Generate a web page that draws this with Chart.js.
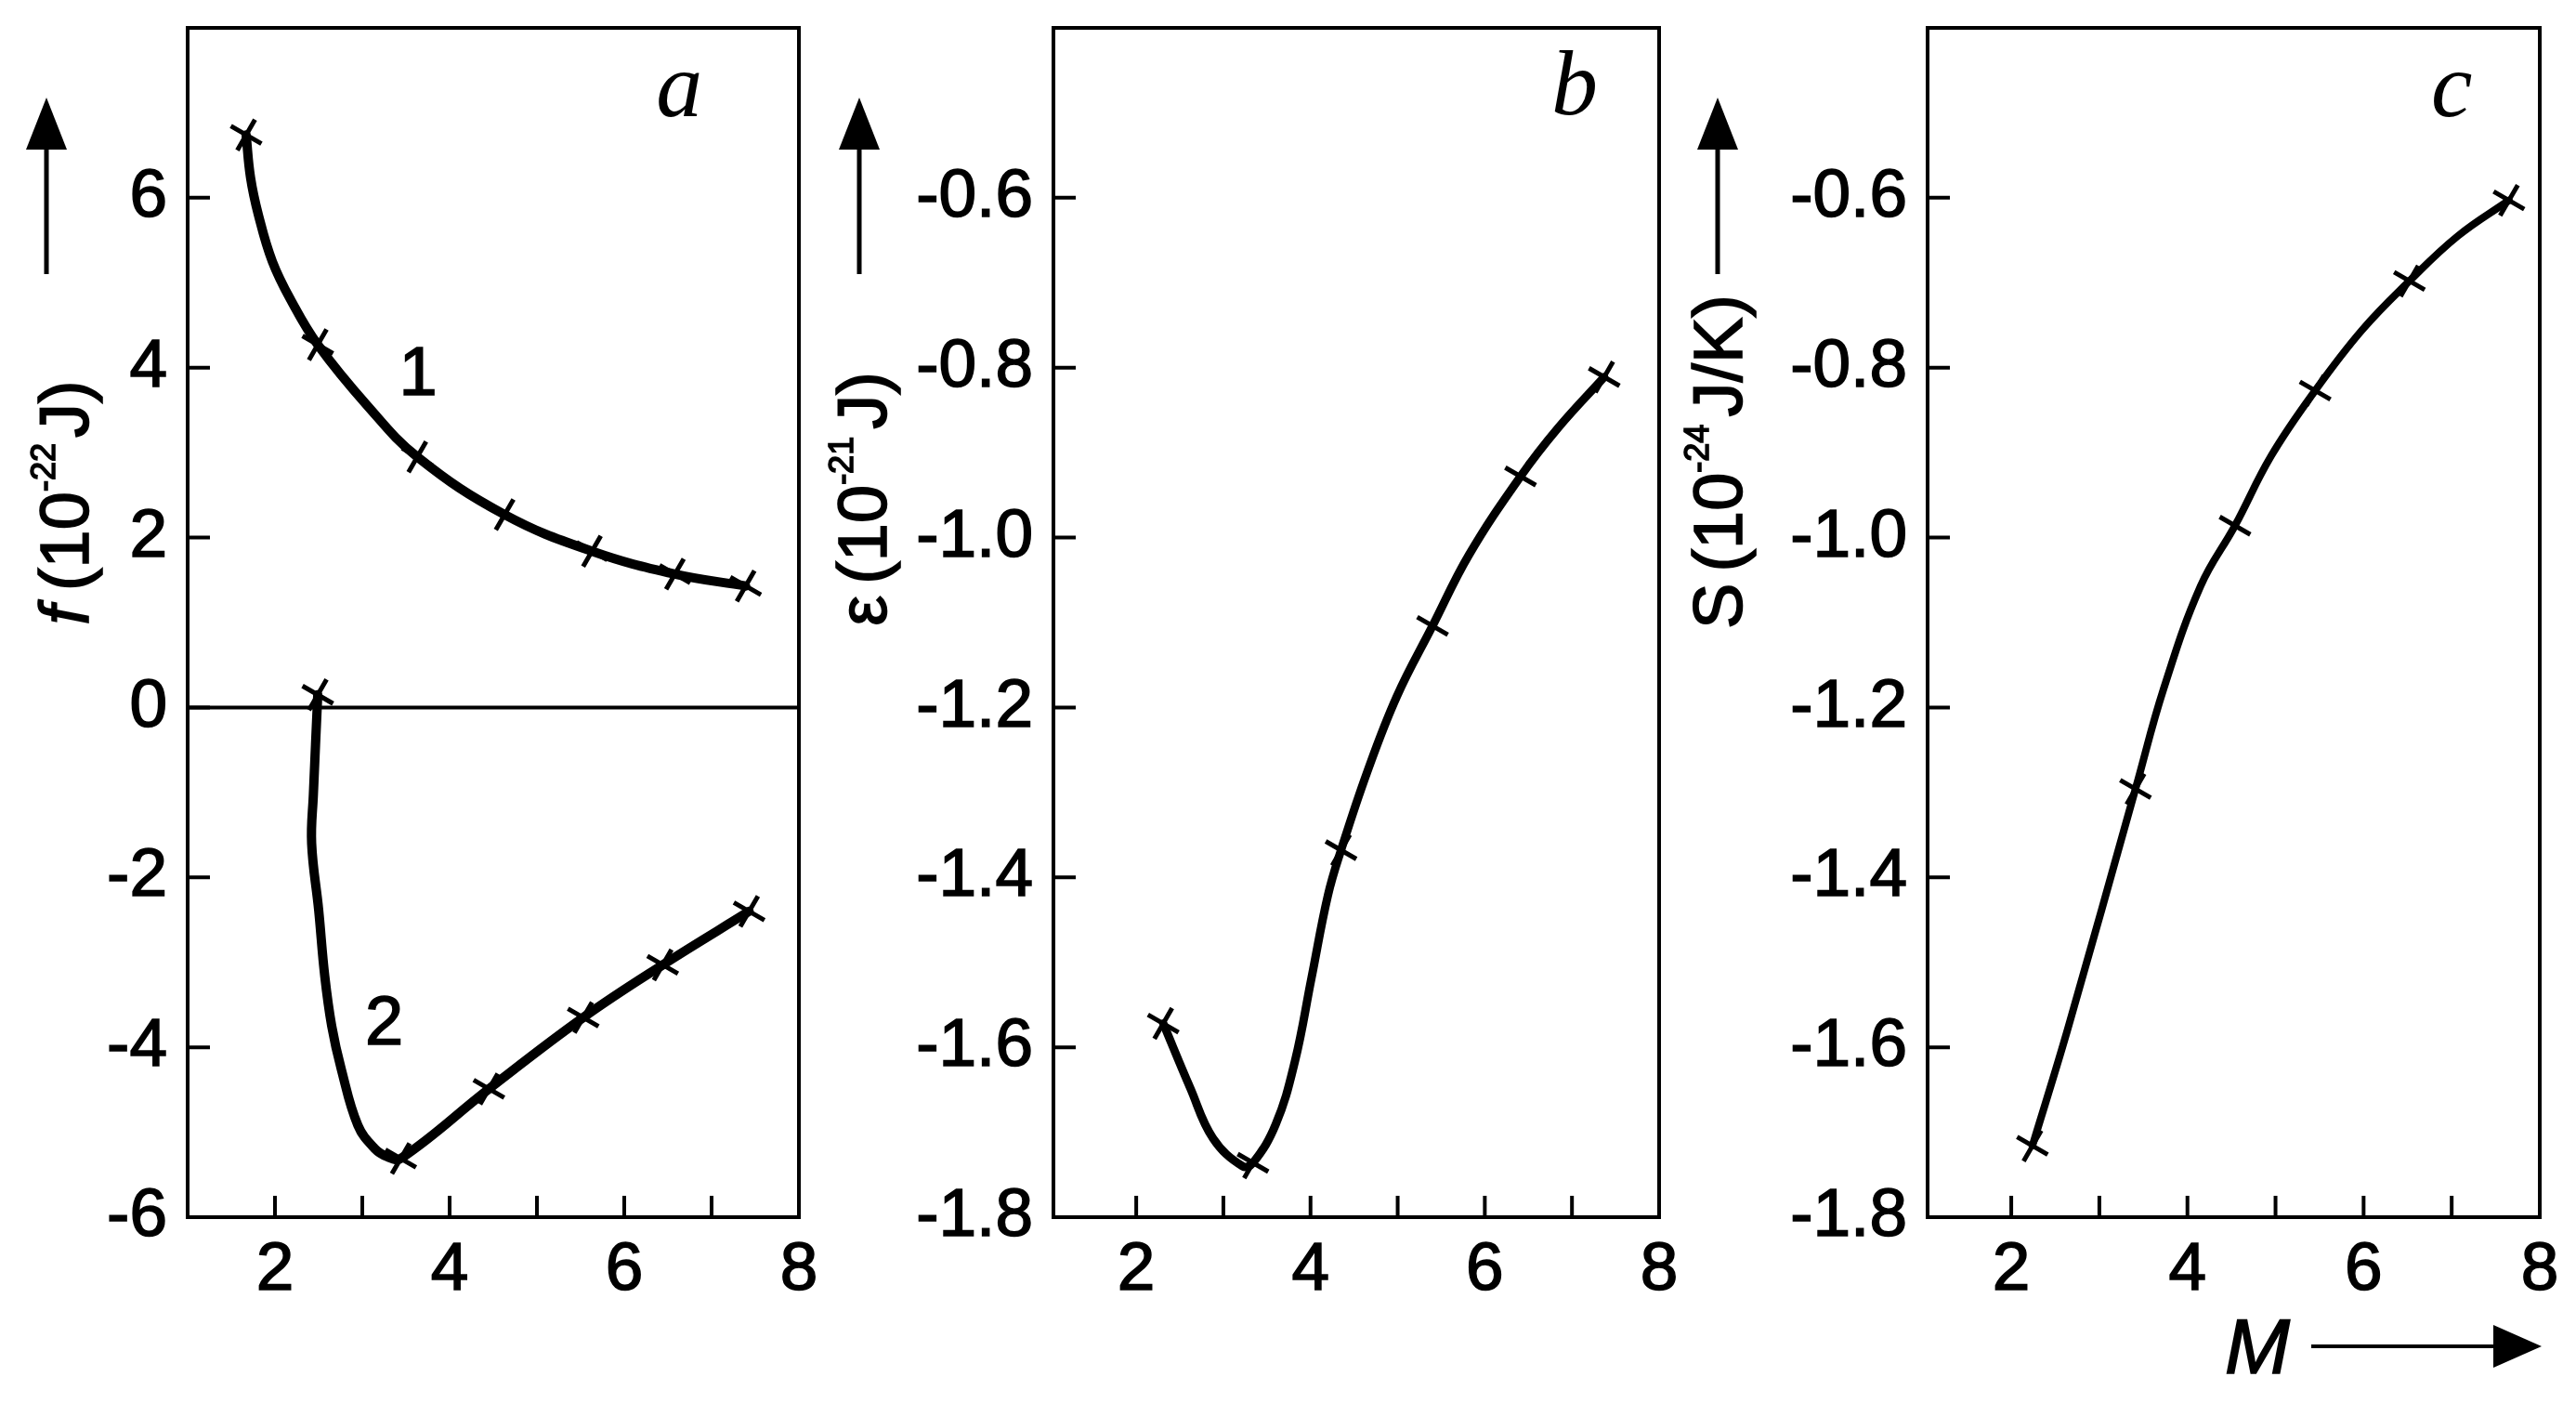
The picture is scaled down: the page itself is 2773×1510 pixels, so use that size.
<!DOCTYPE html>
<html>
<head>
<meta charset="utf-8">
<script src="https://cdn.jsdelivr.net/npm/chart.js@4.4.0/dist/chart.umd.min.js"></script>
<style>
  html, body { margin: 0; padding: 0; background: #fff; }
  #wrap { position: relative; width: 2773px; height: 1510px; overflow: hidden; background: #fff; }
  canvas { position: absolute; top: 0; }
</style>
</head>
<body>
<div id="wrap">
  <canvas id="chartA" width="900" height="1510" style="left:0px"></canvas>
  <canvas id="chartB" width="940" height="1510" style="left:870px"></canvas>
  <canvas id="chartC" width="983" height="1510" style="left:1790px"></canvas>
</div>
<script>
// ---- data (M on the x axis) ----
var xTickValues = [2, 3, 4, 5, 6, 7, 8];
var xTickLabels = [2, 4, 6, 8];

// panel a : f (10^-22 J)
var fTickLabels = [-6, -4, -2, 0, 2, 4, 6];
var fMarkM1 = [1.67, 2.49, 3.63, 4.63, 5.63, 6.58, 7.39];
var fMarkV1 = [6.74, 4.27, 2.95, 2.27, 1.84, 1.57, 1.43];
var fLineM1 = [1.67, 1.72, 1.81, 1.97, 2.19, 2.49, 3.06, 3.63, 4.63, 5.63, 6.58, 7.39];
var fLineV1 = [6.74, 6.24, 5.80, 5.25, 4.78, 4.27, 3.55, 2.95, 2.27, 1.84, 1.57, 1.43];
var fMarkM2 = [2.49, 3.44, 4.45, 5.53, 6.44, 7.43];
var fMarkV2 = [0.15, -5.31, -4.49, -3.65, -3.03, -2.40];
var fLineM2 = [2.49, 2.44, 2.42, 2.50, 2.57, 2.65, 2.76, 2.95, 3.14, 3.29, 3.44, 4.45, 5.53, 6.44, 7.43];
var fLineV2 = [0.15, -1.02, -1.60, -2.38, -3.16, -3.75, -4.26, -4.92, -5.19, -5.29, -5.31, -4.49, -3.65, -3.03, -2.40];

// panel b : epsilon (10^-21 J)
var eTickLabels = [-1.8, -1.6, -1.4, -1.2, -1.0, -0.8, -0.6];
var eMarkM = [2.31, 3.34, 4.35, 5.40, 6.41, 7.37];
var eMarkV = [-1.572, -1.736, -1.368, -1.104, -0.928, -0.811];
var eLineM = [2.31, 2.62, 2.88, 3.22, 3.34, 3.60, 3.82, 4.01, 4.20, 4.35, 4.65, 4.99, 5.40, 5.82, 6.41, 6.84, 7.37];
var eLineV = [-1.572, -1.648, -1.707, -1.740, -1.736, -1.691, -1.617, -1.519, -1.421, -1.368, -1.276, -1.187, -1.104, -1.02, -0.928, -0.871, -0.811];

// panel c : S (10^-24 J/K)
var sTickLabels = [-1.8, -1.6, -1.4, -1.2, -1.0, -0.8, -0.6];
var sMarkM = [2.24, 3.41, 4.54, 5.45, 6.52, 7.65];
var sMarkV = [-1.716, -1.296, -0.986, -0.827, -0.698, -0.603];
var sLineM = [2.24, 2.64, 3.41, 3.73, 4.15, 4.54, 4.95, 5.45, 5.98, 6.52, 7.07, 7.65];
var sLineV = [-1.716, -1.579, -1.296, -1.178, -1.057, -0.986, -0.904, -0.827, -0.756, -0.698, -0.645, -0.603];

var SANS = '"Liberation Sans", Arial, Helvetica, sans-serif';
var SERIF = '"Liberation Serif", "Times New Roman", serif';
var INK = 1.6; // scanned text is a bit heavier than regular weight

function pts(xs, ys) {
  var out = [];
  for (var i = 0; i < xs.length; i++) {
    out.push({x: xs[i], y: ys[i]});
  }
  return out;
}

function curve(xs, ys, w) {
  return {
    data: pts(xs, ys),
    showLine: true,
    borderColor: '#000',
    borderWidth: w,
    borderCapStyle: 'round',
    borderJoinStyle: 'round',
    tension: 0.4,
    pointRadius: 0,
    fill: false
  };
}

function marks(xs, ys) {
  return {
    data: pts(xs, ys),
    showLine: false,
    pointStyle: 'cross',
    pointRotation: 30,
    pointRadius: 19,
    pointBorderWidth: 5,
    pointBorderColor: '#000',
    pointBackgroundColor: '#000'
  };
}

function inList(list, v) {
  for (var i = 0; i < list.length; i++) {
    if (Math.abs(list[i] - v) < 1e-6) return list[i];
  }
  return null;
}

function inkText(ctx, t, x, y) {
  ctx.fillText(t, x, y);
  ctx.lineWidth = INK;
  ctx.strokeText(t, x, y);
}

function arrowUp(ctx, x, tip, base, tail) {
  ctx.lineWidth = 5;
  ctx.beginPath();
  ctx.moveTo(x, tail);
  ctx.lineTo(x, base);
  ctx.stroke();
  ctx.beginPath();
  ctx.moveTo(x, tip);
  ctx.lineTo(x - 22, base + 4);
  ctx.lineTo(x + 22, base + 4);
  ctx.closePath();
  ctx.fill();
}

function arrowRight(ctx, y, tail, base, tip) {
  ctx.lineWidth = 4;
  ctx.beginPath();
  ctx.moveTo(tail, y);
  ctx.lineTo(base, y);
  ctx.stroke();
  ctx.beginPath();
  ctx.moveTo(tip, y);
  ctx.lineTo(base - 4, y - 23);
  ctx.lineTo(base - 4, y + 23);
  ctx.closePath();
  ctx.fill();
}

// rotated axis title, reading bottom to top, with a superscript part
function vTitle(ctx, segs, bx, cy) {
  var total = 0;
  segs.forEach(function(s) {
    ctx.font = s.font;
    s.w = ctx.measureText(s.t).width;
    total += s.w + (s.gap || 0);
  });
  ctx.save();
  ctx.translate(bx, cy);
  ctx.rotate(-Math.PI / 2);
  ctx.textBaseline = 'alphabetic';
  ctx.textAlign = 'left';
  var x = -total / 2;
  segs.forEach(function(s) {
    x += s.gap || 0;
    ctx.font = s.font;
    inkText(ctx, s.t, x, s.up ? -s.up : 0);
    x += s.w;
  });
  ctx.restore();
}

var decor = {
  id: 'decor',
  afterDraw: function(chart) {
    var o = chart.options.plugins.decor;
    var ctx = chart.ctx;
    var a = chart.chartArea;
    var xs = chart.scales.x;
    var ys = chart.scales.y;
    ctx.save();
    ctx.strokeStyle = '#000';
    ctx.fillStyle = '#000';
    ctx.lineWidth = 4;
    ctx.strokeRect(a.left, a.top, a.right - a.left, a.bottom - a.top);

    ctx.beginPath();
    xTickValues.forEach(function(m) {
      if (m >= 8) return;
      var px = xs.getPixelForValue(m);
      ctx.moveTo(px, a.bottom);
      ctx.lineTo(px, a.bottom - 23);
    });
    o.yTicks.forEach(function(v) {
      var py = ys.getPixelForValue(v);
      ctx.moveTo(a.left, py);
      ctx.lineTo(a.left + 24, py);
    });
    ctx.stroke();

    if (o.zeroLine) {
      var y0 = ys.getPixelForValue(0);
      ctx.lineWidth = 4;
      ctx.beginPath();
      ctx.moveTo(a.left, y0);
      ctx.lineTo(a.right, y0);
      ctx.stroke();
    }

    // panel letter
    ctx.font = 'italic 100px ' + SERIF;
    ctx.textAlign = 'center';
    ctx.textBaseline = 'alphabetic';
    ctx.fillText(o.letter.t, xs.getPixelForValue(o.letter.x), ys.getPixelForValue(o.letter.y));

    // curve numbers
    ctx.font = '74px ' + SANS;
    (o.notes || []).forEach(function(n) {
      inkText(ctx, n.t, xs.getPixelForValue(n.x), ys.getPixelForValue(n.y));
    });

    var off = o.left;
    vTitle(ctx, o.title, o.titleX - off, o.titleY);
    arrowUp(ctx, o.arrowX - off, 105, 157, 295);

    if (o.mLabel) {
      ctx.font = 'italic 84px ' + SANS;
      ctx.textAlign = 'center';
      inkText(ctx, 'M', 2430 - off, 1478);
      arrowRight(ctx, 1449, 2488 - off, 2688 - off, 2736 - off);
    }
    ctx.restore();
  }
};

function makePanel(id, cfg) {
  var ctx = document.getElementById(id);
  return new Chart(ctx, {
    type: 'scatter',
    data: { datasets: cfg.datasets },
    plugins: [decor],
    options: {
      responsive: false,
      animation: false,
      devicePixelRatio: 1,
      layout: { padding: { top: 30, right: cfg.padRight, left: 0, bottom: 0 } },
      plugins: {
        legend: { display: false },
        tooltip: { enabled: false },
        decor: cfg.decor
      },
      scales: {
        x: {
          type: 'linear',
          min: cfg.xMin,
          max: 8,
          afterBuildTicks: function(scale) {
            scale.ticks = xTickValues.map(function(v) { return {value: v}; });
          },
          afterFit: function(scale) {
            scale.height = 200;
            scale.paddingLeft = 0;
            scale.paddingRight = 0;
          },
          grid: { display: false, drawTicks: false },
          border: { display: false },
          ticks: {
            autoSkip: false,
            maxRotation: 0,
            padding: 14,
            color: '#000',
            textStrokeColor: '#000',
            textStrokeWidth: INK,
            font: { family: SANS, size: 73 },
            callback: function(v) {
              var hit = inList(xTickLabels, v);
              return hit === null ? '' : String(hit);
            }
          }
        },
        y: {
          type: 'linear',
          min: cfg.yMin,
          max: cfg.yMax,
          afterBuildTicks: function(scale) {
            scale.ticks = cfg.yLabels.map(function(v) { return {value: v}; });
          },
          afterFit: function(scale) {
            scale.width = cfg.yWidth;
            scale.paddingTop = 0;
            scale.paddingBottom = 0;
          },
          grid: { display: false, drawTicks: false },
          border: { display: false },
          ticks: {
            autoSkip: false,
            padding: 22,
            color: '#000',
            textStrokeColor: '#000',
            textStrokeWidth: INK,
            font: { family: SANS, size: 73 },
            callback: function(v) {
              var hit = inList(cfg.yLabels, v);
              if (hit === null) return '';
              return cfg.digits ? hit.toFixed(cfg.digits) : String(hit);
            }
          }
        }
      }
    }
  });
}

var supFont = '36px ' + SANS;
var mainFont = '74px ' + SANS;

makePanel('chartA', {
  datasets: [curve(fLineM1, fLineV1, 10), marks(fMarkM1, fMarkV1), curve(fLineM2, fLineV2, 10), marks(fMarkM2, fMarkV2)],
  xMin: 1, yMin: -6, yMax: 8, yLabels: fTickLabels, digits: 0,
  yWidth: 202, padRight: 40,
  decor: {
    left: 0,
    yTicks: fTickLabels,
    zeroLine: true,
    letter: { t: 'a', x: 6.63, y: 6.96 },
    notes: [{ t: '1', x: 3.64, y: 3.68 }, { t: '2', x: 3.25, y: -3.97 }],
    title: [
      { t: 'f', font: 'italic ' + mainFont },
      { t: '(10', font: mainFont, gap: 16 },
      { t: '-22', font: supFont, up: 36 },
      { t: 'J)', font: mainFont, gap: 6 }
    ],
    titleX: 95, titleY: 541,
    arrowX: 50
  }
});

makePanel('chartB', {
  datasets: [curve(eLineM, eLineV, 9), marks(eMarkM, eMarkV)],
  xMin: 1.05, yMin: -1.8, yMax: -0.4, yLabels: eTickLabels, digits: 1,
  yWidth: 264, padRight: 18,
  decor: {
    left: 870,
    yTicks: eTickLabels,
    letter: { t: 'b', x: 7.03, y: -0.502 },
    title: [
      { t: '\u03b5', font: mainFont },
      { t: '(10', font: mainFont, gap: 12 },
      { t: '-21', font: supFont, up: 36 },
      { t: 'J)', font: mainFont, gap: 8 }
    ],
    titleX: 954, titleY: 537,
    arrowX: 925
  }
});

makePanel('chartC', {
  datasets: [curve(sLineM, sLineV, 8), marks(sMarkM, sMarkV)],
  xMin: 1.05, yMin: -1.8, yMax: -0.4, yLabels: sTickLabels, digits: 1,
  yWidth: 285, padRight: 39,
  decor: {
    left: 1790,
    yTicks: sTickLabels,
    letter: { t: 'c', x: 7.0, y: -0.504 },
    title: [
      { t: 'S', font: mainFont },
      { t: '(10', font: mainFont, gap: 12 },
      { t: '-24', font: supFont, up: 36 },
      { t: 'J/K)', font: mainFont, gap: 8 }
    ],
    titleX: 1875, titleY: 497,
    arrowX: 1849,
    mLabel: true
  }
});
</script>
</body>
</html>
